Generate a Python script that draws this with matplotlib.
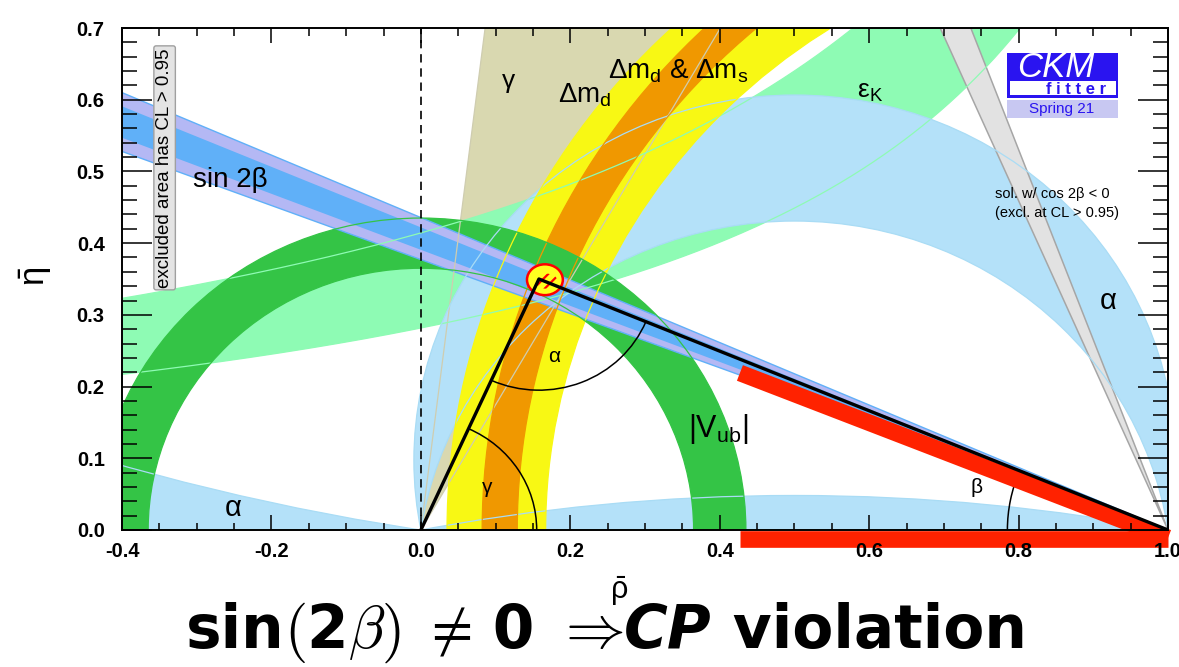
import numpy as np
import matplotlib.pyplot as plt
from matplotlib.patches import Wedge, Circle, Arc, Ellipse, Rectangle, PathPatch
from matplotlib.path import Path
from matplotlib.transforms import Affine2D
from matplotlib.ticker import MultipleLocator, FormatStrFormatter
from matplotlib.offsetbox import TextArea, HPacker, AnchoredOffsetbox

plt.rcParams['font.family'] = ['Liberation Sans', 'DejaVu Sans']
plt.rcParams['mathtext.fontset'] = 'custom'
plt.rcParams['mathtext.rm'] = 'Liberation Sans'
plt.rcParams['mathtext.it'] = 'Liberation Sans:italic'
plt.rcParams['mathtext.bf'] = 'Liberation Sans:bold'
plt.rcParams['hatch.linewidth'] = 1.6
plt.rcParams['hatch.color'] = '#ff0000'

# Constraints in the (rho-bar, eta-bar) plane, 95% CL unless noted
sin2b_beta_95 = [20.66, 23.54]      # beta (deg) allowed by sin 2beta
sin2b_beta_68 = [21.34, 22.88]
alpha_bands = [(0.0, 9.0), (79.0, 98.5), (169.0, 180.0)]   # alpha (deg)
gamma_band = [60.2, 83.0]           # gamma (deg)
vub_radius = [0.365, 0.435]         # ring around (0, 0)
dmd_centre = 1.0
dmd_radius = [0.833, 0.965]         # Delta m_d ring around (1, 0)
dms_centre = 1.054
dms_radius = [0.925, 0.972]         # Delta m_d & Delta m_s ring
epsk_k = [0.378, 0.587]             # eps_K edges: eta * (a - rho) = k
epsk_a = [1.342, 1.417]

# global fit
apex = (0.158, 0.350)
apex_spot = (0.166, 0.349)
spot_size = (0.048, 0.043)

# red highlight of the two sides around beta
highlight_rho = [0.427, 1.0]
highlight_side_eta = [0.219, -0.011]
highlight_base_eta = -0.012

C_TAN = '#d9d8b0'
C_EPSK = '#8efbb4'
C_ALPHA = '#b4e1f9'
C_YEL = '#f8f814'
C_ORA = '#f09800'
C_VUB = '#34c446'
C_BLUE = '#60b0f8'
C_LAV = '#b4b8f4'
C_RED = '#ff2200'
C_LOGO = '#2a14f0'


def alpha_circle(a_deg):
    t = np.radians(a_deg)
    return (0.5, 0.5 / np.tan(t)), 0.5 / np.sin(t)


def circle_path(centre, r, hole=False):
    if hole:
        # mirrored circle runs clockwise -> cuts a hole
        return Path.circle((0, 0), r).transformed(
            Affine2D().scale(1, -1).translate(*centre))
    return Path.circle(centre, r)


def alpha_region(lo, hi):
    parts = []
    if lo <= 0:
        parts.append(Path.unit_rectangle().transformed(
            Affine2D().scale(4, 4).translate(-2, -2)))
    else:
        parts.append(circle_path(*alpha_circle(lo)))
    if hi < 180:
        parts.append(circle_path(*alpha_circle(hi), hole=True))
    return Path.make_compound_path(*parts)


fig = plt.figure(figsize=(11.79, 6.67), dpi=100)
ax = fig.add_axes([0.1035, 0.2054, 0.8872, 0.7526])
ax.set_xlim(-0.4, 1.0)
ax.set_ylim(0.0, 0.7)

# gamma
ax.add_patch(Wedge((0, 0), 2.0, gamma_band[0], gamma_band[1],
                   fc=C_TAN, ec='none', zorder=1))

# eps_K
rho = np.linspace(-0.45, 1.0, 600)
ek_lo = epsk_k[0] / (epsk_a[0] - rho)
ek_hi = epsk_k[1] / (epsk_a[1] - rho)
ax.fill_between(rho, ek_lo, ek_hi, fc=C_EPSK, lw=0, zorder=2)

# alpha
for lo, hi in alpha_bands:
    ax.add_patch(PathPatch(alpha_region(lo, hi), fc=C_ALPHA, ec='none', zorder=3))

# second sin 2beta solution (cos 2beta < 0)
ax.add_patch(Wedge((1, 0), 2.0, 90 + sin2b_beta_95[0], 90 + sin2b_beta_95[1],
                   fc='#e2e2e2', ec='#a6a6a6', lw=1.1, zorder=3.5))

# Delta m_d and Delta m_s
ax.add_patch(Wedge((dmd_centre, 0), dmd_radius[1], 0, 180,
                   width=dmd_radius[1] - dmd_radius[0], fc=C_YEL, ec='none', zorder=4))
ax.add_patch(Wedge((dms_centre, 0), dms_radius[1], 0, 180,
                   width=dms_radius[1] - dms_radius[0], fc=C_ORA, ec='none', zorder=5))

# |Vub|
ax.add_patch(Wedge((0, 0), vub_radius[1], 0, 180,
                   width=vub_radius[1] - vub_radius[0], fc=C_VUB, ec='none', zorder=6))

# sin 2beta
ax.add_patch(Wedge((1, 0), 2.0, 180 - sin2b_beta_95[1], 180 - sin2b_beta_95[0],
                   fc=C_LAV, ec=C_BLUE, lw=1.0, zorder=7))
ax.add_patch(Wedge((1, 0), 2.0, 180 - sin2b_beta_68[1], 180 - sin2b_beta_68[0],
                   fc=C_BLUE, ec='none', zorder=8))

# contour edges drawn over everything
lw_e = 0.9
ax.add_patch(Wedge((0, 0), 2.0, gamma_band[0], gamma_band[1],
                   fill=False, ec='#cfcdb0', lw=lw_e, zorder=9))
ax.plot(rho, ek_lo, color=C_EPSK, lw=lw_e, zorder=9)
ax.plot(rho, ek_hi, color=C_EPSK, lw=lw_e, zorder=9)
for lo, hi in alpha_bands:
    for a in (lo, hi):
        if 0 < a < 180:
            c, r = alpha_circle(a)
            ax.add_patch(Circle(c, r, fill=False, ec='#a9dcf5', lw=lw_e, zorder=9))
for r in dmd_radius:
    ax.add_patch(Circle((dmd_centre, 0), r, fill=False, ec=C_YEL, lw=lw_e, zorder=9))
for r in dms_radius:
    ax.add_patch(Circle((dms_centre, 0), r, fill=False, ec=C_ORA, lw=lw_e, zorder=9))
for r in vub_radius:
    ax.add_patch(Circle((0, 0), r, fill=False, ec=C_VUB, lw=lw_e, zorder=9))

ax.axvline(0.0, color='k', lw=1.2, ls=(0, (5, 3.5)), zorder=9.2)

# unitarity triangle
gam_apex = np.degrees(np.arctan2(apex[1], apex[0]))
bet_apex = np.degrees(np.arctan2(apex[1], 1 - apex[0]))
ax.plot(highlight_rho, highlight_side_eta, color=C_RED, lw=12,
        solid_capstyle='butt', clip_on=False, zorder=10)
ax.plot(highlight_rho, [highlight_base_eta] * 2, color=C_RED, lw=12,
        solid_capstyle='butt', clip_on=False, zorder=10)
ax.add_patch(Arc((0, 0), 0.31, 0.31, theta1=0, theta2=gam_apex, color='k', lw=1.1, zorder=10.5))
ax.add_patch(Arc(apex, 0.31, 0.31, theta1=180 + gam_apex, theta2=360 - bet_apex,
                 color='k', lw=1.1, zorder=10.5))
ax.add_patch(Arc((1, 0), 0.43, 0.43, theta1=180 - bet_apex, theta2=180,
                 color='k', lw=1.1, zorder=9.8))

ax.add_patch(Ellipse(apex_spot, *spot_size, fc='#ffff20', ec='#ff0000', lw=1.8, zorder=11))
ax.add_patch(Ellipse((apex_spot[0] + 0.002, apex_spot[1] - 0.002), 0.03, 0.021,
                     fc='none', ec='#ff0000', lw=0, hatch='///', zorder=11.2))
ax.plot([0, apex[0], 1], [0, apex[1], 0], color='k', lw=2.4, zorder=11.5)

# labels
ax.text(-0.305, 0.478, 'sin 2β', fontsize=20, zorder=14)
ax.text(0.109, 0.616, 'γ', fontsize=19, zorder=14)
ax.text(0.184, 0.596, r'$\mathrm{Δm_d}$', fontsize=20, zorder=14)
ax.text(0.251, 0.630, r'$\mathrm{Δm_d}$ & $\mathrm{Δm_s}$', fontsize=20, zorder=14)
ax.text(0.584, 0.602, r'$\mathrm{ε_K}$', fontsize=19, zorder=14)
ax.text(0.909, 0.308, 'α', fontsize=21, zorder=14)
ax.text(-0.263, 0.0195, 'α', fontsize=21, zorder=14)
ax.text(0.358, 0.13, r'$\mathrm{|V_{ub}|}$', fontsize=22, zorder=14)
ax.text(0.170, 0.234, 'α', fontsize=15, zorder=14)
ax.text(0.082, 0.052, 'γ', fontsize=15, zorder=14)
ax.text(0.735, 0.052, 'β', fontsize=15, zorder=14)
ax.text(0.769, 0.463, 'sol. w/ cos 2β < 0', fontsize=10.5, zorder=14)
ax.text(0.769, 0.437, '(excl. at CL > 0.95)', fontsize=10.5, zorder=14)
ax.text(-0.343, 0.505, 'excluded area has CL > 0.95', rotation=90, ha='center',
        va='center', fontsize=13.5, zorder=14,
        bbox=dict(boxstyle='round,pad=0.12', fc='#e4e4e4', ec='#a0a0a0', lw=1))

# CKMfitter logo
ax.add_patch(Rectangle((0.8464, 0.860), 0.1058, 0.0896, transform=ax.transAxes,
                       fc=C_LOGO, ec='none', zorder=15))
ax.add_patch(Rectangle((0.849, 0.866), 0.101, 0.028, transform=ax.transAxes,
                       fc='white', ec='none', zorder=16))
ax.add_patch(Rectangle((0.8464, 0.8207), 0.1058, 0.036, transform=ax.transAxes,
                       fc='#c8c8f2', ec='none', zorder=15))
ax.text(0.893, 0.9223, 'CKM', style='italic', color='white', fontsize=25,
        ha='center', va='center', transform=ax.transAxes, zorder=17)
ax.text(0.9116, 0.8785, 'f i t t e r', weight='bold', color=C_LOGO, fontsize=12,
        ha='center', va='center', transform=ax.transAxes, zorder=17)
ax.text(0.898, 0.8377, 'Spring 21', color=C_LOGO, fontsize=11,
        ha='center', va='center', transform=ax.transAxes, zorder=17)

# axes styling
ax.xaxis.set_major_locator(MultipleLocator(0.2))
ax.xaxis.set_minor_locator(MultipleLocator(0.05))
ax.yaxis.set_major_locator(MultipleLocator(0.1))
ax.yaxis.set_minor_locator(MultipleLocator(0.02))
ax.xaxis.set_major_formatter(FormatStrFormatter('%.1f'))
ax.yaxis.set_major_formatter(FormatStrFormatter('%.1f'))
ax.tick_params(which='both', direction='in', top=True, right=True, width=1.1)
ax.tick_params(axis='x', which='major', length=10.8, pad=9.0)
ax.tick_params(axis='x', which='minor', length=5.4)
ax.tick_params(axis='y', which='major', length=21.6, pad=12.5)
ax.tick_params(axis='y', which='minor', length=10.8)
for lab in ax.get_xticklabels() + ax.get_yticklabels():
    lab.set_fontweight('bold')
    lab.set_fontsize(14.5)
for sp in ax.spines.values():
    sp.set_linewidth(1.4)
    sp.set_zorder(20)
ax.xaxis.set_zorder(20)
ax.yaxis.set_zorder(20)

fig.text(0.0305, 0.586, r'$\bar{\mathrm{η}}$', rotation=90, fontsize=25,
         ha='center', va='center')
fig.text(0.525, 0.114, r'$\bar{\mathrm{ρ}}$', fontsize=22, ha='center', va='center',
         zorder=5)

# slide caption under the plot
bold = dict(fontsize=43, fontweight='bold', family='DejaVu Sans')
thin = dict(fontsize=43, math_fontfamily='cm')
pieces = [TextArea('sin', textprops=bold),
          TextArea(r'$($', textprops=thin),
          TextArea('2', textprops=bold),
          TextArea(r'$\beta)$', textprops=thin),
          TextArea(' ', textprops=bold),
          TextArea(r'$\neq$', textprops=thin),
          TextArea(' 0 ', textprops=bold),
          TextArea(r'$\Rightarrow$', textprops=thin),
          TextArea('CP', textprops=dict(bold, style='italic')),
          TextArea(' violation', textprops=bold)]
caption = HPacker(children=pieces, align='baseline', pad=0, sep=0)
box = AnchoredOffsetbox(loc='center', child=caption, frameon=False, pad=0,
                        bbox_to_anchor=(0.514, 0.052), bbox_transform=fig.transFigure)
fig.add_artist(box)

fig.savefig('out.png', dpi=100)
